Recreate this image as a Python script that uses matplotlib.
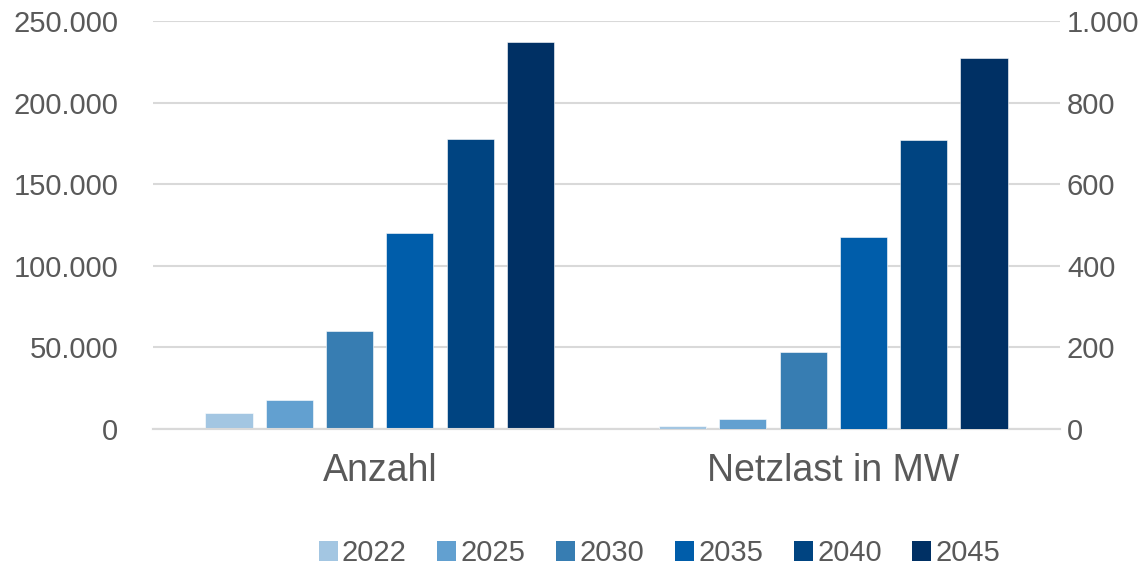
#!/usr/bin/env python3
"""Anzahl und Netzlast nach Stützjahr, gruppierte Säulen mit zwei y-Achsen."""

import matplotlib

matplotlib.use("Agg")
import matplotlib.pyplot as plt
import matplotlib.ticker as mticker
from matplotlib.patches import Patch

categories = ["Anzahl", "Netzlast in MW"]
years = ["2022", "2025", "2030", "2035", "2040", "2045"]
anzahl = [9600, 18000, 60000, 120000, 178000, 237000]
netzlast_mw = [8, 25, 190, 470, 708, 909]

colors = ["#A3C6E2", "#62A0D0", "#377DB2", "#005DAA", "#004481", "#003064"]
text_color = "#595959"
grid_color = "#D9D9D9"

plt.rcParams["font.family"] = ["Liberation Sans", "DejaVu Sans"]


def de_thousands(value, _pos):
    return f"{int(round(value)):,}".replace(",", ".")


fig = plt.figure(figsize=(11.45, 5.69), dpi=100)
ax = fig.add_axes([0.1336, 0.246, 0.7922, 0.717])
ax2 = ax.twinx()

pitch = 0.133
width = 0.104
offsets = [(i - (len(years) - 1) / 2) * pitch for i in range(len(years))]

for i, year in enumerate(years):
    ax.bar(0 + offsets[i], anzahl[i], width=width, color=colors[i],
           edgecolor="white", linewidth=0.4, zorder=3)
    ax2.bar(1 + offsets[i], netzlast_mw[i], width=width, color=colors[i],
            edgecolor="white", linewidth=0.4, zorder=3)

ax.set_xlim(-0.5, 1.5)
ax.set_ylim(0, 250000)
ax2.set_ylim(0, 1000)
ax.yaxis.set_major_locator(mticker.MultipleLocator(50000))
ax2.yaxis.set_major_locator(mticker.MultipleLocator(200))
ax.yaxis.set_major_formatter(mticker.FuncFormatter(de_thousands))
ax2.yaxis.set_major_formatter(mticker.FuncFormatter(de_thousands))

ax.set_xticks([0, 1])
ax.set_xticklabels(categories)
ax.tick_params(axis="x", length=0, pad=17, labelsize=27, labelcolor=text_color)
ax.tick_params(axis="y", length=0, pad=25, labelsize=21, labelcolor=text_color)
ax2.tick_params(axis="y", length=0, pad=5, labelsize=21, labelcolor=text_color)

ax.grid(axis="y", color=grid_color, linewidth=1.5, zorder=0)
ax.set_axisbelow(True)
for a in (ax, ax2):
    for side in ("top", "left", "right"):
        a.spines[side].set_visible(False)
    a.spines["bottom"].set_color(grid_color)
    a.spines["bottom"].set_linewidth(1.5)

handles = [Patch(facecolor=c, edgecolor="none") for c in colors]
fig.legend(handles, years, loc="center", bbox_to_anchor=(0.576, 0.028),
           ncol=6, frameon=False, fontsize=21, labelcolor=text_color,
           handlelength=0.65, handleheight=0.65, handletextpad=0.15,
           columnspacing=1.05)

fig.savefig("out.png", dpi=100)
